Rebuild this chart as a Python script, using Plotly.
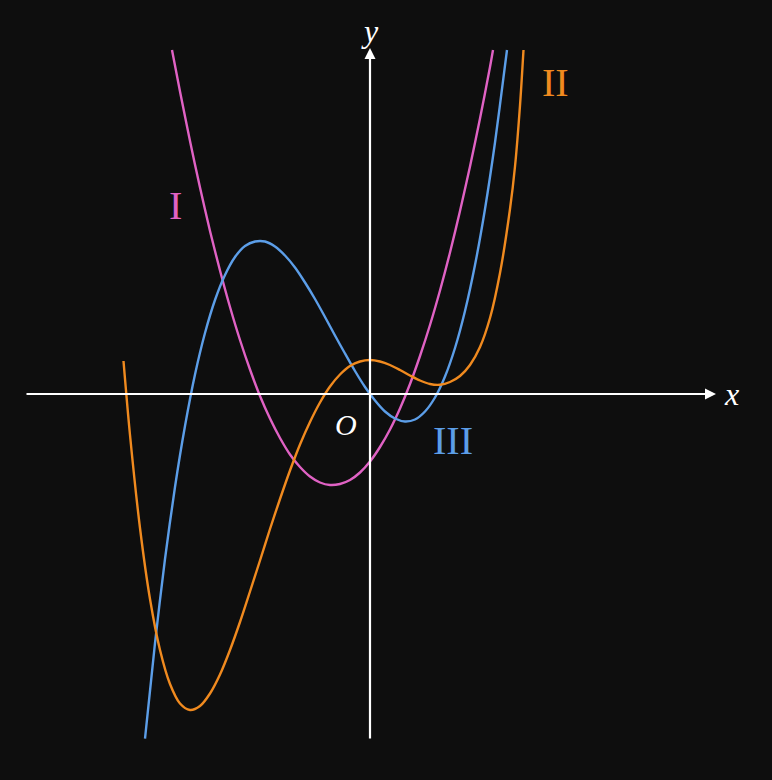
import plotly.graph_objects as go

# Values (1 unit = 50 px, origin at O)

# Curve II (orange)
ii_x = [-4.93, -4.8, -4.6, -4.4, -4.2, -4.0, -3.8, -3.6, -3.4, -3.2, -3.0, -2.8, -2.6,
        -2.4, -2.2, -2.0, -1.8, -1.6, -1.4, -1.2, -1.0, -0.8, -0.6, -0.4, -0.2, 0.0,
        0.2, 0.4, 0.6, 0.8, 1.0, 1.2, 1.4, 1.6, 1.8, 2.0, 2.2, 2.4, 2.6, 2.8, 2.9,
        3.0, 3.07]
ii_y = [0.66, -0.82, -2.68, -4.10, -5.12, -5.80, -6.19, -6.32, -6.24, -5.99, -5.61,
        -5.12, -4.56, -3.95, -3.33, -2.70, -2.10, -1.53, -1.01, -0.56, -0.17, 0.15,
        0.39, 0.56, 0.65, 0.68, 0.65, 0.58, 0.48, 0.37, 0.27, 0.20, 0.185, 0.24,
        0.36, 0.58, 0.94, 1.52, 2.42, 3.70, 4.55, 5.77, 6.88]

# Curve III (blue)
iii_x = [-4.5, -4.3, -4.1, -3.9, -3.7, -3.5, -3.3, -3.1, -2.9, -2.7, -2.5, -2.3, -2.1,
         -1.9, -1.7, -1.5, -1.3, -1.1, -0.9, -0.7, -0.5, -0.3, -0.1, 0.1, 0.3, 0.5,
         0.7, 0.9, 1.1, 1.3, 1.5, 1.7, 1.9, 2.1, 2.3, 2.5, 2.7, 2.74]
iii_y = [-6.89, -4.98, -3.30, -1.86, -0.64, 0.39, 1.22, 1.88, 2.38, 2.74, 2.96, 3.05,
         3.05, 2.95, 2.77, 2.53, 2.23, 1.90, 1.54, 1.17, 0.81, 0.46, 0.14, -0.13,
         -0.35, -0.49, -0.55, -0.51, -0.35, -0.07, 0.35, 0.92, 1.66, 2.58, 3.70,
         5.03, 6.57, 6.88]

# Curve I (pink)
i_x = [-3.96, -3.8, -3.6, -3.4, -3.2, -3.0, -2.8, -2.6, -2.4, -2.2, -2.0, -1.8, -1.6,
       -1.4, -1.2, -1.0, -0.8, -0.6, -0.4, -0.2, 0.0, 0.2, 0.4, 0.6, 0.8, 1.0, 1.2,
       1.4, 1.6, 1.8, 2.0, 2.2, 2.4, 2.46]
i_y = [6.88, 6.05, 5.06, 4.13, 3.26, 2.47, 1.74, 1.08, 0.49, -0.04, -0.49, -0.88,
       -1.21, -1.46, -1.65, -1.77, -1.82, -1.80, -1.72, -1.57, -1.35, -1.06, -0.71,
       -0.29, 0.20, 0.76, 1.38, 2.07, 2.83, 3.66, 4.55, 5.51, 6.54, 6.88]

PINK = "#e062c4"
BLUE = "#5c9ee8"
ORANGE = "#f08a1f"
BG = "#0e0e0e"
SERIF = "Liberation Serif, DejaVu Serif, serif"

fig = go.Figure()
for xs, ys, col in [(i_x, i_y, PINK), (iii_x, iii_y, BLUE), (ii_x, ii_y, ORANGE)]:
    fig.add_trace(go.Scatter(x=xs, y=ys, mode="lines",
                             line=dict(color=col, width=2.4, shape="spline", smoothing=0.8),
                             hoverinfo="skip", showlegend=False))

# axes with arrows
fig.add_annotation(x=6.92, y=0, ax=-6.9, ay=0, xref="x", yref="y", axref="x", ayref="y",
                   text="", showarrow=True, arrowhead=2, arrowsize=1.0, arrowwidth=2.2,
                   arrowcolor="white")
fig.add_annotation(x=0, y=6.92, ax=0, ay=-6.92, xref="x", yref="y", axref="x", ayref="y",
                   text="", showarrow=True, arrowhead=2, arrowsize=1.0, arrowwidth=2.2,
                   arrowcolor="white")

labels = [
    (7.22, 0.0, "<i>x</i>", "white", 32),
    (0.0, 7.26, "<i>y</i>", "white", 32),
    (-0.48, -0.60, "<i>O</i>", "white", 30),
    (-3.90, 3.78, "I", PINK, 40),
    (3.70, 6.24, "II", ORANGE, 40),
    (1.66, -0.92, "III", BLUE, 40),
]
for x, y, t, c, s in labels:
    fig.add_annotation(x=x, y=y, text=t, showarrow=False,
                       font=dict(family=SERIF, size=s, color=c))

fig.update_layout(
    width=772, height=780,
    margin=dict(l=0, r=0, t=0, b=0),
    paper_bgcolor=BG, plot_bgcolor=BG,
    xaxis=dict(range=[-7.40, 8.04], visible=False, showgrid=False, zeroline=False),
    yaxis=dict(range=[-7.72, 7.88], visible=False, showgrid=False, zeroline=False),
)

fig.write_html(
    "out.html",
    config={"displayModeBar": False},
    post_script="document.body.style.margin='0';document.body.style.background='#0e0e0e';"
                "document.body.style.overflow='hidden';",
)
